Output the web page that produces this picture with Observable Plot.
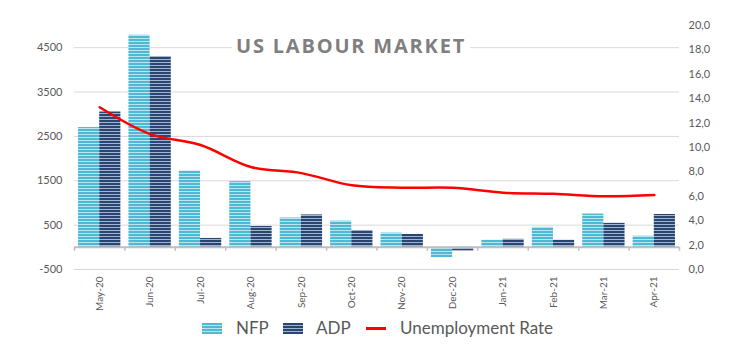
<!DOCTYPE html>
<html>
<head>
<meta charset="utf-8">
<script src="https://cdn.jsdelivr.net/npm/d3@7"></script>
<script src="https://cdn.jsdelivr.net/npm/@observablehq/plot@0.6"></script>
<style>
  body { margin: 0; background: #fff; font-family: Lato, "Open Sans", sans-serif; }
  #wrap { position: relative; width: 735px; height: 364px; }
  #title { position: absolute; left: 232px; top: 33px; background: #fff; padding: 0 4px;
    font: bold 20px "Open Sans", Lato, sans-serif; color: #7f7f7f; letter-spacing: 1.8px; line-height: 26px; }
  .lg { position: absolute; top: 316px; font-size: 17px; color: #595959; line-height: 24px; }
  .sw { position: absolute; top: 323px; width: 20px; height: 11px; }
  #swN { left: 202px; background: repeating-linear-gradient(#4fb8d3 0 2px, #b9e3ee 2px 3px); }
  #swA { left: 283px; background: repeating-linear-gradient(#2a4670 0 2px, #9fb3d3 2px 3px); }
  #swU { left: 366px; top: 327px; height: 3px; background: #ff0000; }
</style>
</head>
<body>
<div id="wrap">
  <div id="chart"></div>
  <div id="title">US LABOUR MARKET</div>
  <div class="sw" id="swN"></div><div class="lg" style="left:236px">NFP</div>
  <div class="sw" id="swA"></div><div class="lg" style="left:316px">ADP</div>
  <div class="sw" id="swU"></div><div class="lg" style="left:400px">Unemployment Rate</div>
</div>
<script>
const months = ["May-20","Jun-20","Jul-20","Aug-20","Sep-20","Oct-20","Nov-20","Dec-20","Jan-21","Feb-21","Mar-21","Apr-21"];
const nfp = [2700, 4780, 1720, 1480, 660, 590, 320, -230, 160, 450, 750, 250];
const adp = [3050, 4300, 200, 470, 730, 380, 290, -80, 180, 160, 540, 740];
const unemployment = [13.3, 11.1, 10.2, 8.4, 7.9, 6.9, 6.7, 6.7, 6.3, 6.2, 6.0, 6.1];
const leftTicks = [-500, 500, 1500, 2500, 3500, 4500];
const rightTicks = [0, 2, 4, 6, 8, 10, 12, 14, 16, 18, 20];
const leftDomain = [-500, 5000];
const rightDomain = [0, 20];

// map right-axis (rate) values onto the left scale
const k = (leftDomain[1] - leftDomain[0]) / (rightDomain[1] - rightDomain[0]);
const toLeft = v => leftDomain[0] + (v - rightDomain[0]) * k;
const fromLeft = d => rightDomain[0] + (d - leftDomain[0]) / k;

const rows = months.map((m, i) => ({i, m, nfp: nfp[i], adp: adp[i], u: toLeft(unemployment[i])}));
const idx = d3.range(months.length);

const chart = Plot.plot({
  width: 735,
  height: 310,
  marginLeft: 74,
  marginRight: 56,
  marginTop: 25,
  marginBottom: 41,
  style: {fontFamily: "Lato, sans-serif", fontSize: "10.5px", color: "#595959", background: "#fff"},
  x: {type: "linear", domain: [0, months.length], axis: null},
  y: {domain: leftDomain, axis: null},
  marks: [
    Plot.gridY(leftTicks, {stroke: "#d9d9d9", strokeOpacity: 1}),
    Plot.axisY(leftTicks, {anchor: "left", tickSize: 0, tickPadding: 12, label: null, fontSize: 11,
      tickFormat: d => String(d)}),
    Plot.axisY(rightTicks.map(toLeft), {anchor: "right", tickSize: 0, tickPadding: 9, label: null, fontSize: 11,
      tickFormat: d => fromLeft(d).toFixed(1).replace(".", ",")}),
    Plot.axisX(idx.map(i => i + 0.5), {anchor: "bottom", tickSize: 0, tickPadding: 7, tickRotate: -90, label: null,
      tickFormat: d => months[Math.floor(d)], fontSize: 10}),
    Plot.rectY(rows, {x1: d => d.i + 0.08, x2: d => d.i + 0.5, y: "nfp", fill: "url(#patNFP)"}),
    Plot.rectY(rows, {x1: d => d.i + 0.5, x2: d => d.i + 0.92, y: "adp", fill: "url(#patADP)"}),
    Plot.ruleY([0], {stroke: "#bfbfbf", strokeWidth: 2}),
    Plot.ruleX(d3.range(months.length + 1), {y1: 0, y2: 0, insetBottom: -4, stroke: "#bfbfbf", strokeWidth: 1.5}),
    Plot.line(rows, {x: d => d.i + 0.5, y: "u", stroke: "#ff0000", strokeWidth: 2.5, curve: "catmull-rom"})
  ]
});

const svg = d3.select(chart);
const defs = svg.insert("defs", ":first-child");
function stripes(id, c1, c2) {
  const p = defs.append("pattern").attr("id", id).attr("patternUnits", "userSpaceOnUse")
    .attr("width", 6).attr("height", 3);
  p.append("rect").attr("width", 6).attr("height", 3).attr("fill", c2);
  p.append("rect").attr("width", 6).attr("height", 2).attr("fill", c1);
}
stripes("patNFP", "#4fb8d3", "#b9e3ee");
stripes("patADP", "#2a4670", "#9fb3d3");

document.getElementById("chart").appendChild(chart);
</script>
</body>
</html>
